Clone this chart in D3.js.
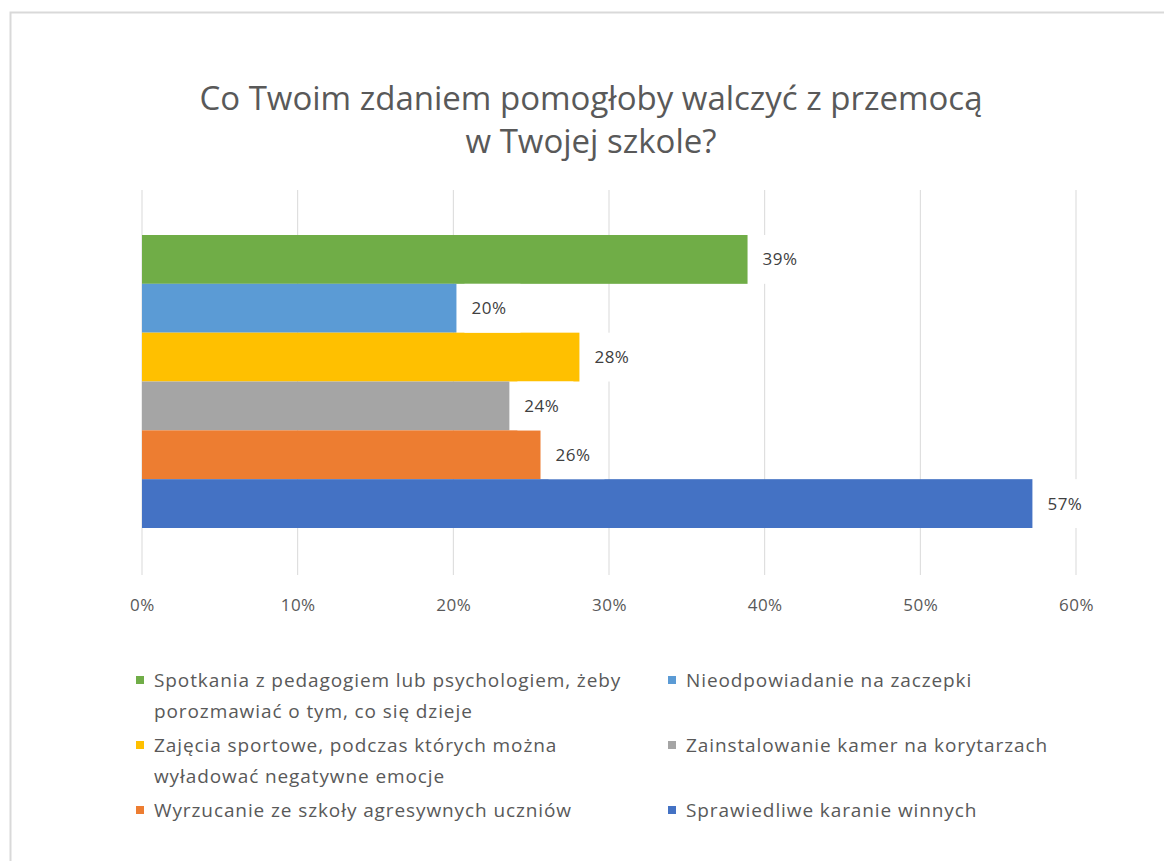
<!DOCTYPE html>
<html>
<head>
<meta charset="utf-8">
<script src="https://cdn.jsdelivr.net/npm/d3@7"></script>
<style>
  body { margin: 0; background: #fff; }
  svg text { font-family: "Open Sans", sans-serif; }
</style>
</head>
<body>
<div id="chart"></div>
<script>
// dane z wykresu
const categories = [
    "Spotkania z pedagogiem lub psychologiem, żeby porozmawiać o tym, co się dzieje",
    "Nieodpowiadanie na zaczepki",
    "Zajęcia sportowe, podczas których można wyładować negatywne emocje",
    "Zainstalowanie kamer na korytarzach",
    "Wyrzucanie ze szkoły agresywnych uczniów",
    "Sprawiedliwe karanie winnych"
];
const values = [38.9, 20.2, 28.1, 23.6, 25.6, 57.2];
const valueLabels = ["39%", "20%", "28%", "24%", "26%", "57%"];
const colors = ["#70ad47", "#5b9bd5", "#ffc000", "#a5a5a5", "#ed7d31", "#4472c4"];
const ticks = [0, 10, 20, 30, 40, 50, 60];
const titleLines = ["Co Twoim zdaniem pomogłoby walczyć z przemocą", "w Twojej szkole?"];
// podział opisów legendy na linie (jak w oryginale)
const legendLines = [
    ["Spotkania z pedagogiem lub psychologiem, żeby", "porozmawiać o tym, co się dzieje"],
    ["Nieodpowiadanie na zaczepki"],
    ["Zajęcia sportowe, podczas których można", "wyładować negatywne emocje"],
    ["Zainstalowanie kamer na korytarzach"],
    ["Wyrzucanie ze szkoły agresywnych uczniów"],
    ["Sprawiedliwe karanie winnych"]
];

const width = 1164, height = 861;
const svg = d3.select("#chart").append("svg")
    .attr("width", width)
    .attr("height", height);

// ramka wykresu
svg.append("rect")
    .attr("x", 10.5).attr("y", 12.5)
    .attr("width", width + 20).attr("height", height + 20)
    .attr("fill", "none")
    .attr("stroke", "#d9d9d9")
    .attr("stroke-width", 2);

// tytuł
svg.selectAll("text.title")
    .data(titleLines)
    .enter()
    .append("text")
    .attr("class", "title")
    .attr("x", 591)
    .attr("y", (d, i) => 110 + i * 43)
    .attr("text-anchor", "middle")
    .attr("font-size", "33px")
    .attr("fill", "#595959")
    .text(d => d);

const plot = { left: 142, right: 1076, top: 190, bottom: 575 };

const x = d3.scaleLinear()
    .domain([0, 60])
    .range([plot.left, plot.right]);

const y = d3.scaleBand()
    .domain(categories)
    .range([235, 528])
    .padding(0);

// siatka
svg.selectAll("line.grid")
    .data(ticks)
    .enter()
    .append("line")
    .attr("class", "grid")
    .attr("x1", d => x(d)).attr("x2", d => x(d))
    .attr("y1", plot.top).attr("y2", plot.bottom)
    .attr("stroke", "#d9d9d9")
    .attr("stroke-width", 1);

// oś X
const axis = svg.append("g")
    .attr("transform", `translate(0,${plot.bottom})`)
    .call(d3.axisBottom(x).tickValues(ticks).tickFormat(d => d + "%").tickSize(0).tickPadding(24));
axis.select(".domain").remove();
axis.selectAll("text")
    .attr("font-size", "17px")
    .attr("letter-spacing", "0.5px")
    .attr("fill", "#595959")
    .style("font-family", "'Open Sans', sans-serif");

// słupki
svg.selectAll("rect.bar")
    .data(values)
    .enter()
    .append("rect")
    .attr("class", "bar")
    .attr("x", x(0))
    .attr("y", (d, i) => y(categories[i]))
    .attr("width", d => x(d) - x(0))
    .attr("height", y.bandwidth())
    .attr("fill", (d, i) => colors[i]);

// etykiety z tłem
const labels = svg.selectAll("g.label")
    .data(values)
    .enter()
    .append("g")
    .attr("class", "label")
    .attr("transform", (d, i) => `translate(${x(d) + 8},${y(categories[i]) + y.bandwidth() / 2})`);
labels.append("rect")
    .attr("x", 0).attr("y", -y.bandwidth() / 2)
    .attr("width", 56).attr("height", y.bandwidth())
    .attr("fill", "#fff");
labels.append("text")
    .attr("x", 7)
    .attr("dy", "0.35em")
    .attr("font-size", "17px")
    .attr("letter-spacing", "0.5px")
    .attr("fill", "#404040")
    .text((d, i) => valueLabels[i]);

// legenda
const legendPos = [
    { x: 136, y: 680 }, { x: 668, y: 680 },
    { x: 136, y: 745 }, { x: 668, y: 745 },
    { x: 136, y: 810 }, { x: 668, y: 810 }
];
const legend = svg.selectAll("g.legend")
    .data(categories)
    .enter()
    .append("g")
    .attr("class", "legend")
    .attr("transform", (d, i) => `translate(${legendPos[i].x},${legendPos[i].y})`);
legend.append("rect")
    .attr("x", 0).attr("y", -4)
    .attr("width", 8).attr("height", 8)
    .attr("fill", (d, i) => colors[i]);
legend.append("text")
    .attr("font-size", "19px")
    .attr("letter-spacing", "0.9px")
    .attr("fill", "#595959")
    .selectAll("tspan")
    .data((d, i) => legendLines[i])
    .enter()
    .append("tspan")
    .attr("x", 18)
    .attr("y", (d, j) => j * 31)
    .attr("dy", "0.35em")
    .text(d => d);
</script>
</body>
</html>
